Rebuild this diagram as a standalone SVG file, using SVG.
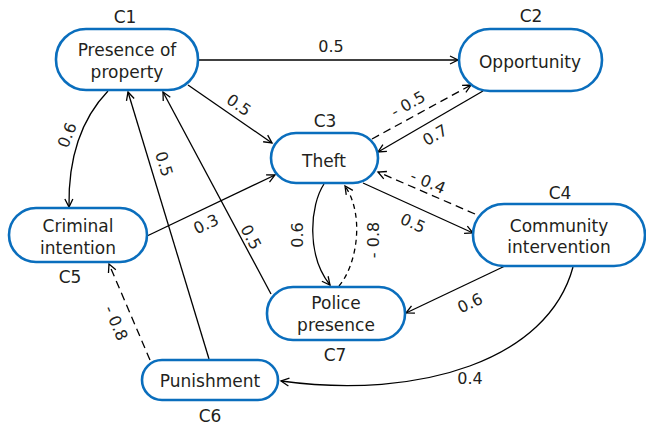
<svg xmlns="http://www.w3.org/2000/svg" width="646" height="429" viewBox="0 0 646 429">
<defs>
<marker id="arr" markerWidth="12" markerHeight="12" refX="0" refY="0" viewBox="-10 -6 12 12" orient="auto" markerUnits="userSpaceOnUse">
<path d="M-8,-4 L0,0 L-8,4" fill="none" stroke="#000" stroke-width="1.3"/>
</marker>
<style>
.node rect{fill:#fff;stroke:#0A6EBD;stroke-width:2.6}
.nt{font-family:"DejaVu Sans",sans-serif;font-size:17px;fill:#231f20;text-anchor:middle}
.cl{font-family:"DejaVu Sans",sans-serif;font-size:17px;fill:#231f20;text-anchor:middle}
.el{font-family:"DejaVu Sans",sans-serif;font-size:16px;fill:#231f20;text-anchor:middle}
.e{fill:none;stroke:#000;stroke-width:1.3;marker-end:url(#arr)}
.d{stroke-dasharray:8,5}
.d2{stroke-dasharray:5,4}
</style>
</defs>
<rect width="646" height="429" fill="#fff"/>
<g id="connectors">
<path class="e" d="M198,60 L458,60"/>
<path class="e" d="M188,85 L272,143"/>
<path class="e" d="M108,91 C85,115 68,150 69,207"/>
<path class="e" d="M209,359 L128,92"/>
<path class="e" d="M271,294 L163,92"/>
<path class="e" d="M147,236 L275,175"/>
<path class="e d" d="M150,360 L109,264"/>
<path class="e" d="M573,267 C548,360 420,400 281,381"/>
<path class="e" d="M505,266 L406,313"/>
<path class="e" d="M363,183 L473,233"/>
<path class="e d" d="M475,214 L378,172"/>
<path class="e" d="M483,91 L378,152"/>
<path class="e d" d="M372,139 L471,85"/>
<path class="e" d="M324,184 C310,205 306,255 330,285"/>
<path class="e d2" d="M339,286 C357,265 365,215 345,186"/>
<g class="el">
<text x="331" y="52">0.5</text>
<text transform="translate(239,105) rotate(35)" dy="0.35em">0.5</text>
<text transform="translate(67,135) rotate(-68)" dy="0.35em">0.6</text>
<text transform="translate(164,164) rotate(73)" dy="0.35em">0.5</text>
<text transform="translate(251,237) rotate(62)" dy="0.35em">0.5</text>
<text transform="translate(206,224) rotate(-25)" dy="0.35em">0.3</text>
<text transform="translate(116,323) rotate(67)" dy="0.35em">- 0.8</text>
<text x="470" y="384">0.4</text>
<text transform="translate(470,303) rotate(-25)" dy="0.35em">0.6</text>
<text transform="translate(413,223) rotate(24)" dy="0.35em">0.5</text>
<text transform="translate(428,182) rotate(23)" dy="0.35em">- 0.4</text>
<text transform="translate(435,135) rotate(-30)" dy="0.35em">0.7</text>
<text transform="translate(408,104) rotate(-29)" dy="0.35em">- 0.5</text>
<text transform="translate(297,235) rotate(-90)" dy="0.35em">0.6</text>
<text transform="translate(373,240) rotate(-90)" dy="0.35em">- 0.8</text>
</g>
</g>
<g id="C1" class="node">
<rect x="56" y="29" width="142" height="61" rx="30"/>
<text class="nt" x="127" y="56">Presence of</text>
<text class="nt" x="127" y="78">property</text>
<text class="cl" x="125" y="23">C1</text>
</g>
<g id="C2" class="node">
<rect x="459" y="29" width="143" height="62" rx="31"/>
<text class="nt" x="530" y="68">Opportunity</text>
<text class="cl" x="531" y="22">C2</text>
</g>
<g id="C3" class="node">
<rect x="271" y="133" width="107" height="50" rx="25"/>
<text class="nt" x="324" y="167">Theft</text>
<text class="cl" x="325" y="127">C3</text>
</g>
<g id="C4" class="node">
<rect x="473" y="204" width="172" height="62" rx="31"/>
<text class="nt" x="559" y="232">Community</text>
<text class="nt" x="559" y="253">intervention</text>
<text class="cl" x="560" y="199">C4</text>
</g>
<g id="C5" class="node">
<rect x="9" y="208" width="138" height="54" rx="27"/>
<text class="nt" x="78" y="232">Criminal</text>
<text class="nt" x="78" y="254">intention</text>
<text class="cl" x="70" y="283">C5</text>
</g>
<g id="C6" class="node">
<rect x="142" y="360" width="136" height="40" rx="20"/>
<text class="nt" x="210" y="387">Punishment</text>
<text class="cl" x="210" y="422">C6</text>
</g>
<g id="C7" class="node">
<rect x="267" y="287" width="138" height="53" rx="26"/>
<text class="nt" x="336" y="309">Police</text>
<text class="nt" x="336" y="331">presence</text>
<text class="cl" x="335" y="361">C7</text>
</g>
</svg>
